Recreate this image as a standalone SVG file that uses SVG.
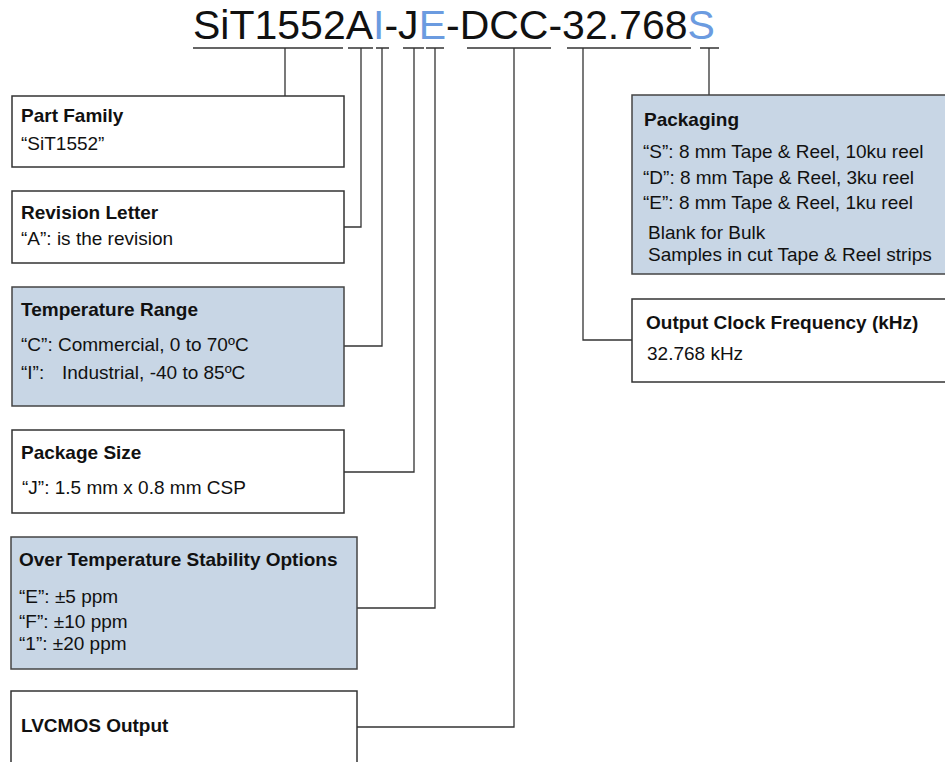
<svg xmlns="http://www.w3.org/2000/svg" width="945" height="762" viewBox="0 0 945 762">
<style>
text{font-family:"Liberation Sans",Arial,sans-serif;fill:#111}
.h{font-weight:bold;font-size:19px}
.t{font-size:19px}
.ttl{font-size:41px}
.blue{fill:#6b9be0}
.box{fill:#fff;stroke:#333;stroke-width:1.5}
.bbox{fill:#c8d6e5;stroke:#444;stroke-width:1.5}
.ln{fill:none;stroke:#333;stroke-width:1.3}
</style>
<rect width="945" height="762" fill="#fff"/>
<g id="title">
<text class="ttl" x="193" y="39">SiT1552A<tspan class="blue">I</tspan>-J<tspan class="blue">E</tspan>-DCC-32.768<tspan class="blue">S</tspan></text>
</g>
<g id="connectors" class="ln">
<path d="M193 48H343M285 48V96"/>
<path d="M348 48H373M361 48V227H344"/>
<path d="M376 48H389M382 48V346H344"/>
<path d="M403 48H424M414 48V472H344"/>
<path d="M426 48H444M435 48V608H357"/>
<path d="M467 48H551M514 48V727H357"/>
<path d="M567 48H691M583 48V340H632"/>
<path d="M700 48H719M709 48V95"/>
</g>
<g id="part-family">
<rect class="box" x="12" y="96" width="332" height="71"/>
<text class="h" x="21" y="122">Part Family</text>
<text class="t" x="21" y="150">“SiT1552”</text>
</g>
<g id="revision-letter">
<rect class="box" x="12" y="191" width="332" height="72"/>
<text class="h" x="21" y="219">Revision Letter</text>
<text class="t" x="21" y="245">“A”: is the revision</text>
</g>
<g id="temperature-range">
<rect class="bbox" x="12" y="287" width="332" height="119"/>
<text class="h" x="21" y="316">Temperature Range</text>
<text class="t" x="21" y="351">“C”: Commercial, 0 to 70ºC</text>
<text class="t" x="21" y="379">“I”:<tspan x="62">Industrial, -40 to 85ºC</tspan></text>
</g>
<g id="package-size">
<rect class="box" x="12" y="430" width="332" height="83"/>
<text class="h" x="21" y="459">Package Size</text>
<text class="t" x="22" y="494">“J”: 1.5 mm x 0.8 mm CSP</text>
</g>
<g id="stability">
<rect class="bbox" x="11" y="537" width="346" height="132"/>
<text class="h" x="19" y="566">Over Temperature Stability Options</text>
<text class="t" x="19" y="603">“E”: ±5 ppm</text>
<text class="t" x="19" y="628">“F”: ±10 ppm</text>
<text class="t" x="19" y="650">“1”: ±20 ppm</text>
</g>
<g id="lvcmos">
<rect class="box" x="11" y="691" width="346" height="90"/>
<text class="h" x="21" y="732">LVCMOS Output</text>
</g>
<g id="packaging">
<rect class="bbox" x="632" y="95" width="330" height="179"/>
<text class="h" x="644" y="126">Packaging</text>
<text class="t" x="643" y="158">“S”: 8 mm Tape &amp; Reel, 10ku reel</text>
<text class="t" x="643" y="184">“D”: 8 mm Tape &amp; Reel, 3ku reel</text>
<text class="t" x="643" y="209">“E”: 8 mm Tape &amp; Reel, 1ku reel</text>
<text class="t" x="648" y="239">Blank for Bulk</text>
<text class="t" x="648" y="261">Samples in cut Tape &amp; Reel strips</text>
</g>
<g id="output-frequency">
<rect class="box" x="632" y="299" width="330" height="83"/>
<text class="h" x="646" y="329">Output Clock Frequency (kHz)</text>
<text class="t" x="647" y="360">32.768 kHz</text>
</g>
</svg>
